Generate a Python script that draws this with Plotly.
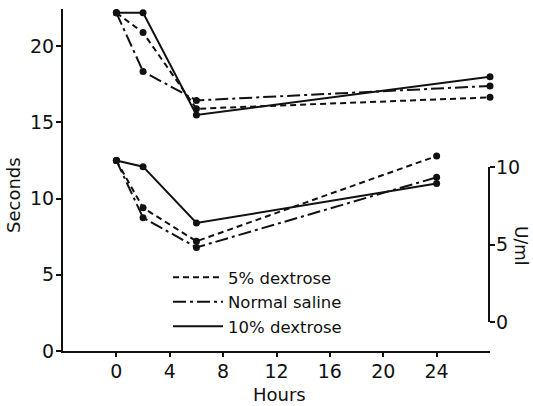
import plotly.graph_objects as go

# ---- data ----
hours_top = [0, 2, 6, 28]
hours_bottom = [0, 2, 6, 24]

dextrose5_top = [22.2, 20.9, 15.9, 16.65]
saline_top = [22.2, 18.35, 16.45, 17.4]
dextrose10_top = [22.2, 22.2, 15.5, 18.0]

dextrose5_bottom = [12.5, 9.4, 7.2, 12.8]
saline_bottom = [12.5, 8.75, 6.8, 11.4]
dextrose10_bottom = [12.5, 12.1, 8.4, 11.0]

series_names = ["5% dextrose", "Normal saline", "10% dextrose"]
x_ticks = [0, 4, 8, 12, 16, 20, 24]
y_ticks = [0, 5, 10, 15, 20]
u_ticks = [0, 5, 10]

FONT = "DejaVu Sans"
BLACK = "#111111"
dash_styles = ["6px,4px", "13px,4px,3px,4px", "solid"]

fig = go.Figure()

tops = [dextrose5_top, saline_top, dextrose10_top]
bottoms = [dextrose5_bottom, saline_bottom, dextrose10_bottom]

for name, top, bottom, dash in zip(series_names, tops, bottoms, dash_styles):
    for xs, ys in ((hours_top, top), (hours_bottom, bottom)):
        fig.add_trace(go.Scatter(
            x=xs, y=ys, mode="lines+markers", showlegend=False,
            line=dict(color=BLACK, width=2, dash=dash),
            marker=dict(color=BLACK, size=7),
            cliponaxis=False, hoverinfo="skip",
        ))
    # legend-only sample
    fig.add_trace(go.Scatter(
        x=[None], y=[None], mode="lines", name=name,
        line=dict(color=BLACK, width=2, dash=dash),
    ))

# invisible trace to anchor the right-hand U/ml axis
fig.add_trace(go.Scatter(x=[None], y=[None], yaxis="y2", showlegend=False,
                         mode="markers", hoverinfo="skip"))

W, H = 533, 406
ml, mr, mt, mb = 63, 43, 9, 55
plot_h = H - mt - mb
plot_w = W - ml - mr

def yfrac(px):
    return (H - mb - px) / plot_h

def xfrac(px):
    return (px - ml) / plot_w

axis_common = dict(
    showgrid=False, zeroline=False, showline=True, linecolor=BLACK, linewidth=2,
    ticks="outside", tickwidth=2, tickcolor=BLACK, automargin=False,
    tickfont=dict(size=19, family=FONT, color=BLACK),
)

fig.update_layout(
    width=W, height=H,
    margin=dict(l=ml, r=mr, t=mt, b=mb, autoexpand=False),
    paper_bgcolor="white", plot_bgcolor="rgba(0,0,0,0)",
    font=dict(family=FONT, color=BLACK, size=19),
    xaxis=dict(range=[-4, 28], tickvals=x_ticks, ticktext=[str(v) for v in x_ticks],
               ticklen=4, ticklabelstandoff=-2, **axis_common),
    yaxis=dict(range=[0, 22.45], tickvals=y_ticks, ticktext=[str(v) for v in y_ticks],
               ticklen=5, ticklabelstandoff=-2, **axis_common),
    yaxis2=dict(domain=[yfrac(322), yfrac(167)], range=[0, 10], anchor="free",
                position=0.998, side="right", tickvals=u_ticks,
                ticktext=[str(v) for v in u_ticks], ticklen=5,
                ticklabelstandoff=-3, **axis_common),
    legend=dict(
        x=xfrac(168), y=yfrac(260), xanchor="left", yanchor="top",
        bgcolor="rgba(0,0,0,0)", font=dict(size=16.5, family=FONT, color=BLACK),
        itemwidth=50, tracegroupgap=0,
    ),
    annotations=[
        dict(text="Seconds", xref="paper", yref="paper", x=xfrac(13), y=yfrac(195),
             xanchor="center", yanchor="middle", textangle=-90, showarrow=False,
             font=dict(size=18)),
        dict(text="Hours", xref="paper", yref="paper", x=xfrac(279), y=yfrac(394),
             xanchor="center", yanchor="middle", showarrow=False, font=dict(size=18)),
        dict(text="U/ml", xref="paper", yref="paper", x=xfrac(521), y=yfrac(245),
             xanchor="center", yanchor="middle", textangle=90, showarrow=False,
             font=dict(size=17)),
    ],
)

fig.write_html("out.html", config={"displayModeBar": False},
               post_script="document.body.style.margin='0';")
